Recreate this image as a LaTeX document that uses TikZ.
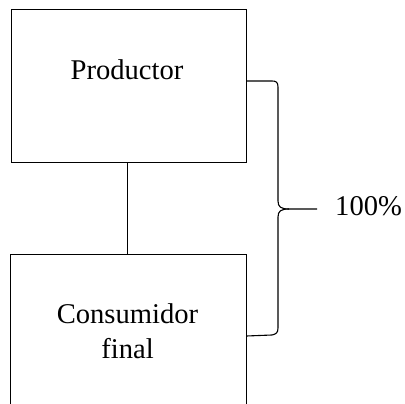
\documentclass[tikz,border=0pt]{standalone}
\usepackage{fontspec}
\setmainfont{Liberation Serif}
\begin{document}
\begin{tikzpicture}[x=1pt,y=-1pt,
  boxstyle/.style={draw=black,line width=1pt,minimum width=235pt,inner sep=0pt},
  openbox/.style={minimum width=235pt,inner sep=0pt},
  lbl/.style={font=\fontsize{28.6}{35}\selectfont,inner sep=0pt,align=center},
  conn/.style={draw=black,line width=1pt},
  bracestyle/.style={draw=black,line width=1.1pt,line join=round}]
\useasboundingbox (0,0) rectangle (405,404);
\node[boxstyle,minimum height=153pt] (prod) at (128.5,86.5) {};
\node[openbox,minimum height=149pt] (cons) at (128.5,329.5) {};
\draw[conn] (cons.south west) -- (cons.north west) -- (cons.north east) -- (cons.south east);
\node[lbl,anchor=base] (tprod) at (127,80) {Productor};
\node[lbl,anchor=base] (tcons) at (127.5,358) {Consumidor\\final};
\draw[conn] ([xshift=-1.5pt]prod.south) -- ([xshift=-1.5pt]cons.north);
\coordinate (btop) at (prod.east |- 0,81);
\coordinate (bbot) at (prod.east |- 0,336);
\coordinate (tip) at (317,209);
\node[lbl,anchor=base west] (pct) at (335,215) {100\%};
\draw[bracestyle] (btop) -- (272,81) .. controls (276,81) and (278,82) .. (278,87) -- (278,201) .. controls (278,207) and (281,209) .. (289,209) -- (tip);
\draw[bracestyle] (289,209) .. controls (281,209) and (278,211) .. (278,217) -- (278,328) .. controls (278,333) and (276,334) .. (272,335) -- (bbot);
\end{tikzpicture}
\end{document}
